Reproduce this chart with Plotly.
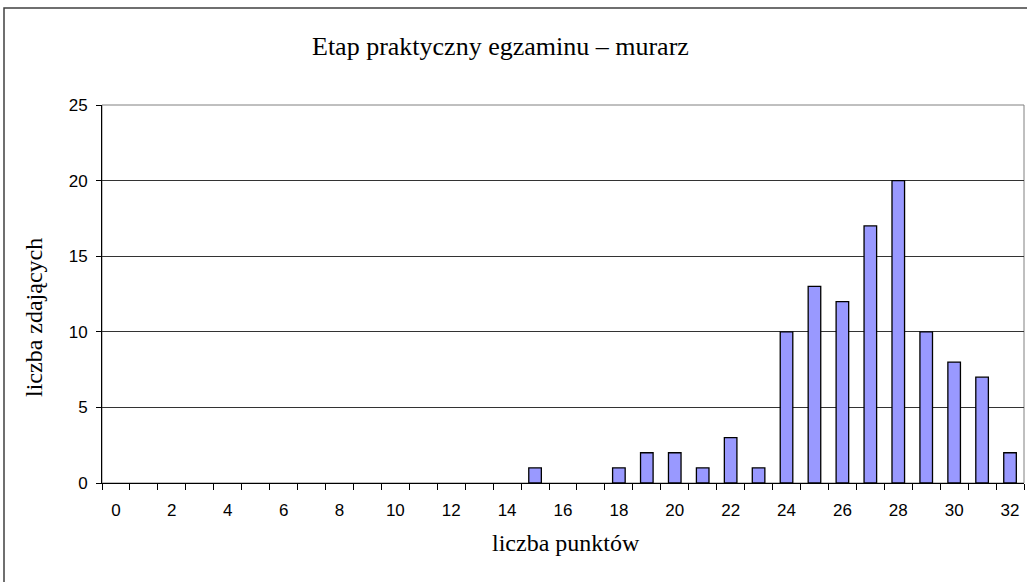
import plotly.graph_objects as go

# liczba punktów (0-32) i liczba zdających
punkty = [str(i) for i in range(33)]
zdajacy = [0, 0, 0, 0, 0, 0, 0, 0, 0, 0, 0, 0, 0, 0, 0, 1, 0, 0, 1, 2,
           2, 1, 3, 1, 10, 13, 12, 17, 20, 10, 8, 7, 2]
etykiety = [p if int(p) % 2 == 0 else "" for p in punkty]

W, H = 1027, 582
L, R, T, B = 102, 3, 105, 99
PW, PH = W - L - R, H - T - B

# puste słupki bez obrysu
obrys = [1.3 if v > 0 else 0 for v in zdajacy]

fig = go.Figure(go.Bar(
    x=punkty, y=zdajacy,
    marker=dict(color="#9999FF", line=dict(color="black", width=obrys)),
))

serif = "Liberation Serif, Times New Roman, serif"
sans = "Liberation Sans, Arial, sans-serif"

fig.update_layout(
    width=W, height=H,
    margin=dict(l=L, r=R, t=T, b=B),
    paper_bgcolor="white", plot_bgcolor="white",
    bargap=0.55, showlegend=False,
    xaxis=dict(type="category", tickvals=punkty, ticktext=etykiety,
               tickson="boundaries", ticks="outside", ticklen=6,
               tickcolor="black", showline=True, linecolor="black",
               linewidth=1, showgrid=False, ticklabelstandoff=12,
               tickangle=0,
               tickfont=dict(family=sans, size=17, color="black")),
    yaxis=dict(range=[0, 25], dtick=5, ticks="outside", ticklen=5,
               tickcolor="black", showline=True, linecolor="black",
               linewidth=1, showgrid=True, gridcolor="#333333", gridwidth=1,
               zeroline=False, ticklabelstandoff=5,
               tickfont=dict(family=sans, size=17, color="black")),
)

# tytuły jako adnotacje (pozycje w pikselach przeliczone na paper)
def px(x):
    return (x - L) / PW

def py(y):
    return (H - B - y) / PH

fig.add_annotation(text="Etap praktyczny egzaminu \u2013 murarz",
                   x=px(500), y=py(46), xref="paper", yref="paper",
                   showarrow=False, xanchor="center", yanchor="middle",
                   font=dict(family=serif, size=26, color="black"))
fig.add_annotation(text="liczba punktów",
                   x=px(566), y=py(543), xref="paper", yref="paper",
                   showarrow=False, xanchor="center", yanchor="middle",
                   font=dict(family=serif, size=24, color="black"))
fig.add_annotation(text="liczba zdających", textangle=-90,
                   x=px(34), y=py(318), xref="paper", yref="paper",
                   showarrow=False, xanchor="center", yanchor="middle",
                   font=dict(family=serif, size=24, color="black"))

# szara ramka obszaru wykresu i ramka całego wykresu
fig.add_shape(type="rect", xref="paper", yref="paper",
              x0=0, x1=1, y0=0, y1=1, layer="below",
              line=dict(color="#808080", width=1))
fig.add_shape(type="rect", xref="paper", yref="paper",
              x0=px(4), x1=1.05, y0=-0.5, y1=py(8),
              line=dict(color="#404040", width=1.5))

fig.write_html("out.html", config={"displayModeBar": False},
               post_script="document.body.style.margin='0';")
